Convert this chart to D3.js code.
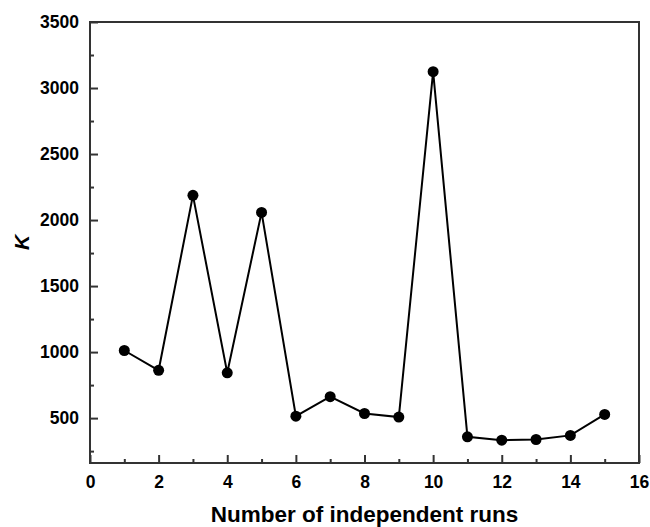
<!DOCTYPE html>
<html>
<head>
<meta charset="utf-8">
<script src="https://cdn.jsdelivr.net/npm/d3@7"></script>
<style>
  body { margin: 0; background: #fff; }
  svg { display: block; }
  svg text { font-family: Arial, "Liberation Sans", sans-serif; font-weight: bold; fill: #000; }
</style>
</head>
<body>
<div id="chart"></div>
<script>
const runs = [1, 2, 3, 4, 5, 6, 7, 8, 9, 10, 11, 12, 13, 14, 15]
const kValues = [1012, 862, 2187, 843, 2058, 515, 662, 535, 508, 3124, 358, 333, 338, 369, 528]
const xTicks = [0, 2, 4, 6, 8, 10, 12, 14, 16]
const yTicks = [500, 1000, 1500, 2000, 2500, 3000, 3500]

const width = 650
const height = 527
const margin = { top: 22, right: 11, bottom: 64, left: 90 }
const axisColor = '#333'

const svg = d3.select('#chart')
  .append('svg')
  .attr('width', width)
  .attr('height', height)

const xScale = d3.scaleLinear()
  .domain([0, 16])
  .range([margin.left, width - margin.right])

const yScale = d3.scaleLinear()
  .domain([160, 3500])
  .range([height - margin.bottom, margin.top])

const x0 = xScale.range()[0], x1 = xScale.range()[1]
const y0 = yScale.range()[0], y1 = yScale.range()[1]

// minor ticks
const xMinor = d3.range(1, 16, 2)
const yMinor = d3.range(250, 3500, 500)

const xAxis = g => g
  .attr('transform', `translate(0,${y0})`)
  .call(d3.axisBottom(xScale).tickValues(xTicks).tickFormat(d3.format('d')).tickSize(-8).tickPadding(13).tickSizeOuter(0))
  .call(g => g.select('.domain').remove())

const xAxisMinor = g => g
  .attr('transform', `translate(0,${y0})`)
  .call(d3.axisBottom(xScale).tickValues(xMinor).tickSize(-4).tickFormat('').tickSizeOuter(0))
  .call(g => g.select('.domain').remove())

const yAxis = g => g
  .attr('transform', `translate(${x0},0)`)
  .call(d3.axisLeft(yScale).tickValues(yTicks).tickFormat(d3.format('d')).tickSize(-8).tickPadding(11).tickSizeOuter(0))
  .call(g => g.select('.domain').remove())

const yAxisMinor = g => g
  .attr('transform', `translate(${x0},0)`)
  .call(d3.axisLeft(yScale).tickValues(yMinor).tickSize(-4).tickFormat('').tickSizeOuter(0))
  .call(g => g.select('.domain').remove())

svg.append('g').call(xAxis)
svg.append('g').call(xAxisMinor)
svg.append('g').call(yAxis)
svg.append('g').call(yAxisMinor)

svg.selectAll('.tick line')
  .attr('stroke', axisColor)
  .attr('stroke-width', 2)

svg.selectAll('.tick text')
  .style('font-size', '17.5px')

// frame
svg.append('rect')
  .attr('x', x0)
  .attr('y', y1)
  .attr('width', x1 - x0)
  .attr('height', y0 - y1)
  .attr('fill', 'none')
  .attr('stroke', axisColor)
  .attr('stroke-width', 2)

const pts = runs.map((r, i) => [r, kValues[i]])

svg.append('path')
  .datum(pts)
  .attr('fill', 'none')
  .attr('stroke', '#000')
  .attr('stroke-width', 2)
  .attr('d', d3.line().x(d => xScale(d[0])).y(d => yScale(d[1])))

svg.append('g')
  .selectAll('circle')
  .data(pts)
  .join('circle')
  .attr('cx', d => xScale(d[0]))
  .attr('cy', d => yScale(d[1]))
  .attr('r', 5.5)
  .attr('fill', '#000')

svg.append('text')
  .attr('x', (x0 + x1) / 2)
  .attr('y', 522)
  .attr('text-anchor', 'middle')
  .style('font-size', '22.5px')
  .text('Number of independent runs')

svg.append('text')
  .attr('transform', `translate(29,${(y0 + y1) / 2}) rotate(-90)`)
  .attr('text-anchor', 'middle')
  .style('font-size', '21px')
  .style('font-style', 'italic')
  .text('K')
</script>
</body>
</html>
